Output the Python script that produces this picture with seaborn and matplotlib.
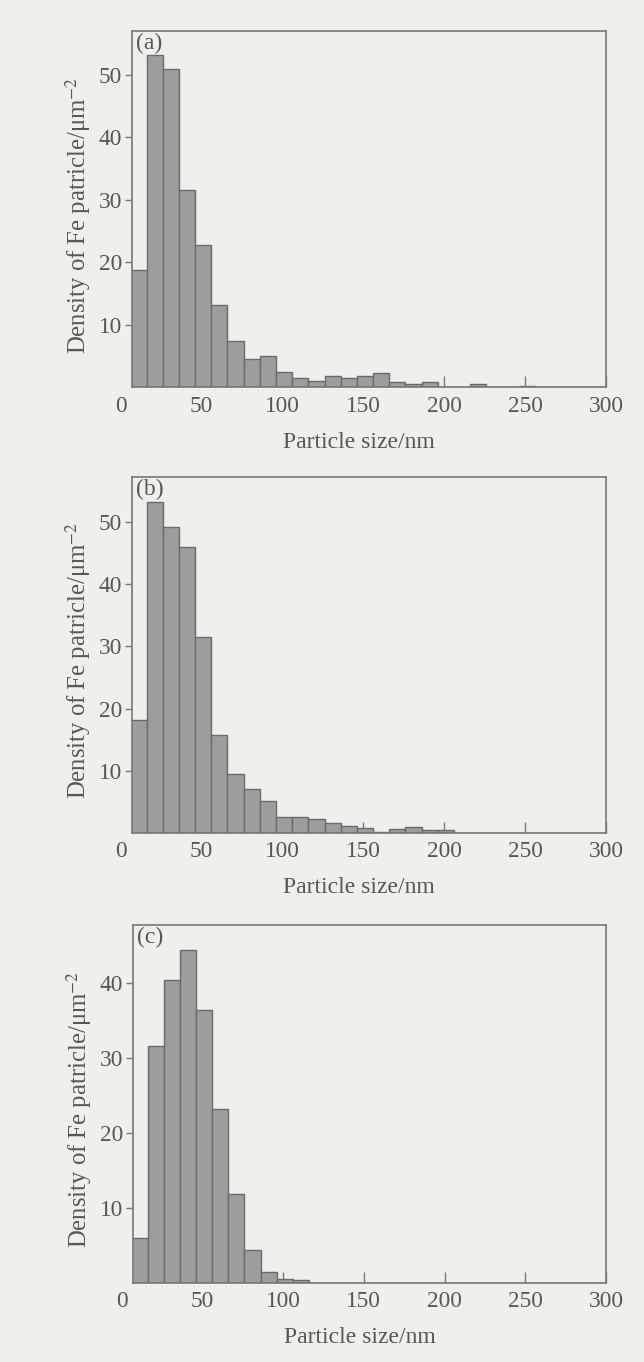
import numpy as np
import pandas as pd
import matplotlib
matplotlib.use("Agg")
import matplotlib.pyplot as plt
import seaborn as sns

# bins (nm): 10 nm wide, first bin starts at 6 nm
bin_left = np.arange(6, 300, 10)
bin_centers = bin_left + 5

# densities (particles / um^2), one value per bin
dens_a = [18.8, 53.2, 51.0, 31.5, 22.8, 13.2, 7.4, 4.5, 5.0, 2.4,
          1.45, 1.1, 1.9, 1.55, 1.8, 2.25, 0.95, 0.5, 0.8, 0.0,
          0.0, 0.55, 0.0, 0.0, 0.3, 0.0, 0.0, 0.0, 0.0, 0.0]
dens_b = [18.1, 53.2, 49.2, 46.1, 31.6, 15.75, 9.5, 7.0, 5.1, 2.5,
          2.5, 2.25, 1.55, 1.1, 0.75, 0.15, 0.55, 0.9, 0.45, 0.45,
          0.0, 0.0, 0.0, 0.0, 0.0, 0.0, 0.0, 0.0, 0.0, 0.0]
dens_c = [6.0, 31.6, 40.4, 44.3, 36.4, 23.2, 11.8, 4.4, 1.4, 0.45,
          0.35, 0.0, 0.0, 0.0, 0.0, 0.0, 0.0, 0.0, 0.0, 0.0,
          0.0, 0.0, 0.0, 0.0, 0.0, 0.0, 0.0, 0.0, 0.0, 0.0]

panels = ["(a)", "(b)", "(c)"]
ylims = [57.0, 57.3, 47.7]
yticks = [[10, 20, 30, 40, 50], [10, 20, 30, 40, 50], [10, 20, 30, 40]]
xticks = [50, 100, 150, 200, 250, 300]

bg = "#f0efec"
ink = "#575757"
spine_col = "#787878"

sns.set_style("ticks")
plt.rcParams["font.family"] = ["Liberation Serif", "DejaVu Serif"]
plt.rcParams["mathtext.fontset"] = "stix"

W, H = 644, 1362
fig = plt.figure(figsize=(W / 100, H / 100), dpi=100, facecolor=bg)

# axes boxes in pixels: left, right, top, bottom
boxes = [(132, 606, 31, 387.5), (132, 606, 477, 832.7), (133, 606, 925, 1282.7)]

for i, dens in enumerate([dens_a, dens_b, dens_c]):
    l, r, t, b = boxes[i]
    ax = fig.add_axes([l / W, 1 - b / H, (r - l) / W, (b - t) / H])
    ax.set_facecolor(bg)
    df = pd.DataFrame({"size": bin_centers, "density": dens})
    sns.histplot(data=df, x="size", weights="density", binwidth=10,
                 binrange=(6, 306), ax=ax,
                 color="#9d9d9d", edgecolor="#6a6a6a", linewidth=1.0, alpha=1)
    ax.set_xlim(7, 300)
    ax.set_ylim(0, ylims[i])
    ax.set_xticks(xticks)
    ax.set_yticks(yticks[i])
    ax.tick_params(axis="x", direction="in", length=8, width=1, colors=spine_col,
                   labelcolor=ink, labelsize=16.8, pad=6)
    ax.tick_params(axis="y", direction="out", length=5, width=1, colors=spine_col,
                   labelcolor=ink, labelsize=16.8, pad=2)
    for s in ax.spines.values():
        s.set_color(spine_col)
        s.set_linewidth(1.2)
    ax.set_xlabel("Particle size/nm", fontsize=17, color=ink, labelpad=11)
    ax.xaxis.label.set_x(0.479)
    ax.set_ylabel("Density of Fe patricle/μm$^{-2}$", fontsize=17.8, color=ink, labelpad=4)
    ax.yaxis.label.set_y(0.483)
    # the "0" at the origin sits a little left of the frame
    ax.annotate("0", xy=(0, 0), xycoords="data", xytext=(0, -6), textcoords="offset points",
                ha="center", va="top", fontsize=16.8, color=ink, annotation_clip=False)
    ax.text(0.008, 0.995, panels[i], transform=ax.transAxes, ha="left", va="top",
            fontsize=17, color=ink)

fig.savefig("out.png", dpi=100, facecolor=bg)
